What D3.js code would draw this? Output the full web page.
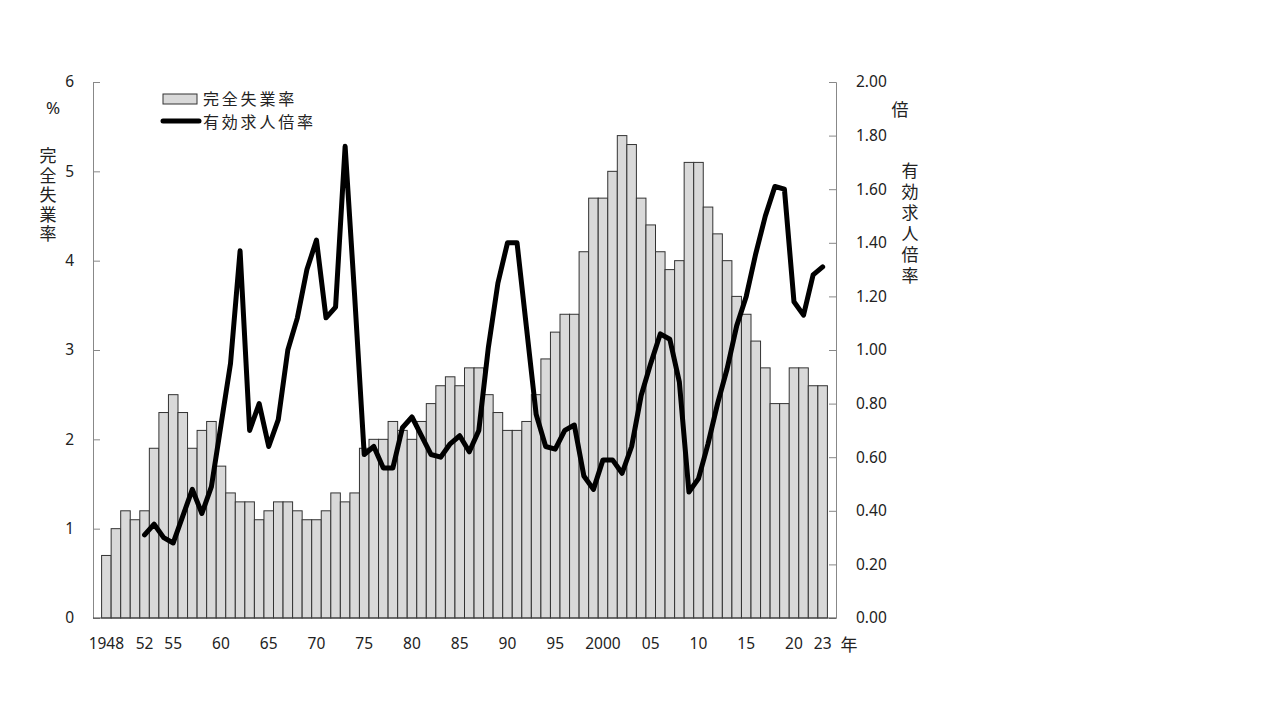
<!DOCTYPE html>
<html><head><meta charset="utf-8">
<script src="https://cdn.jsdelivr.net/npm/d3@7"></script>
<style>
body{margin:0;background:#fff;}
svg text{font-family:"Noto Sans","Noto Sans CJK JP",sans-serif;fill:#222;}
</style></head>
<body><svg id="c" width="1280" height="720"></svg>
<script>
const years = d3.range(1948, 2024);
const unemployment = [0.7,1.0,1.2,1.1,1.2,1.9,2.3,2.5,2.3,1.9,2.1,2.2,1.7,1.4,1.3,1.3,1.1,1.2,1.3,1.3,
1.2,1.1,1.1,1.2,1.4,1.3,1.4,1.9,2.0,2.0,2.2,2.1,2.0,2.2,2.4,2.6,2.7,2.6,2.8,2.8,
2.5,2.3,2.1,2.1,2.2,2.5,2.9,3.2,3.4,3.4,4.1,4.7,4.7,5.0,5.4,5.3,4.7,4.4,4.1,3.9,
4.0,5.1,5.1,4.6,4.3,4.0,3.6,3.4,3.1,2.8,2.4,2.4,2.8,2.8,2.6,2.6];
const jobRatio = [null,null,null,null,0.31,0.35,0.30,0.28,0.38,0.48,0.39,0.49,0.72,0.95,1.37,0.70,0.80,0.64,0.74,1.00,
1.12,1.30,1.41,1.12,1.16,1.76,1.20,0.61,0.64,0.56,0.56,0.71,0.75,0.68,0.61,0.60,0.65,0.68,0.62,0.70,
1.01,1.25,1.40,1.40,1.08,0.76,0.64,0.63,0.70,0.72,0.53,0.48,0.59,0.59,0.54,0.64,0.83,0.95,1.06,1.04,
0.88,0.47,0.52,0.65,0.80,0.93,1.09,1.20,1.36,1.50,1.61,1.60,1.18,1.13,1.28,1.31];
const xTickYears = [1948,1952,1955,1960,1965,1970,1975,1980,1985,1990,1995,2000,2005,2010,2015,2020,2023];
const xTickLabels = ["1948","52","55","60","65","70","75","80","85","90","95","2000","05","10","15","20","23"];
const leftTicks = [0,1,2,3,4,5,6];
const rightTicks = [0,0.2,0.4,0.6,0.8,1.0,1.2,1.4,1.6,1.8,2.0];
const seriesNames = ["完全失業率","有効求人倍率"];
const leftTitle = "完全失業率", rightTitle = "有効求人倍率";

const svg = d3.select("#c");
const L = 93, R = 836, T = 82, B = 618;
const x = d3.scaleBand().domain(years).range([L, R]).paddingInner(0).paddingOuter(0.9);
const yL = d3.scaleLinear().domain([0, 6]).range([B, T]);
const yR = d3.scaleLinear().domain([0, 2]).range([B, T]);

// bars
svg.append("g").selectAll("rect").data(years).join("rect")
  .attr("x", d => x(d)).attr("width", x.bandwidth())
  .attr("y", (d,i) => yL(unemployment[i])).attr("height", (d,i) => B - yL(unemployment[i]))
  .attr("fill", "#d9d9d9").attr("stroke", "#333").attr("stroke-width", 1);

// left axis
const gl = svg.append("g").attr("transform", `translate(${L},0)`)
  .call(d3.axisRight(yL).tickValues(leftTicks).tickSize(7).tickFormat(d3.format("d")));
gl.select(".domain").attr("stroke", "#888");
gl.selectAll(".tick line").attr("stroke", "#888");
gl.selectAll(".tick text").attr("x", -19).attr("text-anchor", "end").attr("font-size", 15.5);

// right axis
const gr = svg.append("g").attr("transform", `translate(${R},0)`)
  .call(d3.axisLeft(yR).tickValues(rightTicks).tickSize(7).tickFormat(d3.format(".2f")));
gr.select(".domain").attr("stroke", "#888");
gr.selectAll(".tick line").attr("stroke", "#888");
gr.selectAll(".tick text").attr("x", 20).attr("text-anchor", "start").attr("font-size", 15.5);

// bottom axis
const gb = svg.append("g").attr("transform", `translate(0,${B})`)
  .call(d3.axisBottom(x).tickValues(xTickYears).tickSize(0)
    .tickFormat(d => xTickLabels[xTickYears.indexOf(d)]));
gb.select(".domain").attr("stroke", "#444").attr("d", `M${L},0H${R}`);
gb.selectAll(".tick text").attr("y", 20).attr("font-size", 15.5);
svg.append("text").attr("x", 849).attr("y", 651).attr("text-anchor", "middle")
  .attr("font-size", 17).text("年");

// line
const line = d3.line().defined(d => d[1] != null)
  .x(d => x(d[0]) + x.bandwidth()/2).y(d => yR(d[1]));
svg.append("path").datum(years.map((y,i) => [y, jobRatio[i]]))
  .attr("d", line).attr("fill", "none").attr("stroke", "#000")
  .attr("stroke-width", 5).attr("stroke-linejoin", "round").attr("stroke-linecap", "round");

// unit labels
svg.append("text").attr("x", 53).attr("y", 114).attr("text-anchor", "middle").attr("font-size", 17).text("%");
svg.append("text").attr("x", 900).attr("y", 116).attr("text-anchor", "middle").attr("font-size", 17).text("倍");

// vertical titles
function vtext(str, cx, ytop, fs, ls){
  svg.append("text").attr("x", cx).attr("y", ytop)
    .attr("font-size", fs).attr("letter-spacing", ls)
    .style("writing-mode", "vertical-rl").style("glyph-orientation-vertical", "0")
    .text(str);
}
vtext(leftTitle, 47, 147, 17, 2.6);
vtext(rightTitle, 909, 162, 17, 4);

// legend
const lg = svg.append("g");
lg.append("rect").attr("x", 163).attr("y", 94).attr("width", 34).attr("height", 10)
  .attr("fill", "#d9d9d9").attr("stroke", "#333").attr("stroke-width", 1);
lg.append("text").attr("x", 203).attr("y", 98.8).attr("dominant-baseline", "central")
  .attr("font-size", 16).attr("letter-spacing", 2.8).text(seriesNames[0]);
lg.append("line").attr("x1", 163).attr("x2", 199).attr("y1", 121).attr("y2", 121)
  .attr("stroke", "#000").attr("stroke-width", 5).attr("stroke-linecap", "round");
lg.append("text").attr("x", 203).attr("y", 122.4).attr("dominant-baseline", "central")
  .attr("font-size", 16).attr("letter-spacing", 2.8).text(seriesNames[1]);
</script></body></html>
